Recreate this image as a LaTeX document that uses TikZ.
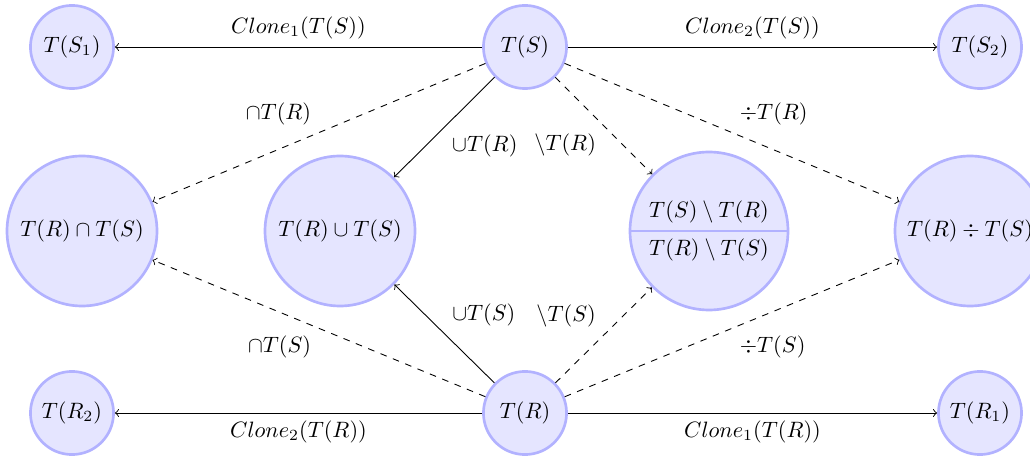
\documentclass[tikz,border=0pt]{standalone}
\usepackage{amsmath,amssymb}
\usepackage{tikz}
\usetikzlibrary{positioning,shapes.multipart}
\tikzset{
  setnode/.style={circle, draw=blue!30, fill=blue!10, very thick, inner sep=1pt},
  leafnode/.style={setnode, minimum size=37.4pt},
  resnode/.style={setnode, minimum size=67.5pt},
  opedge/.style={->},
  optedge/.style={->, dashed}
}

\begin{document}
\begin{tikzpicture}[node distance=82.8pt, on grid, font=\fontsize{10.4pt}{12.5pt}\selectfont]
    \useasboundingbox (0,0) rectangle (463.5pt,-205.65pt);
    % operands
    \node [leafnode] (ts) at (236.25pt,-21.15pt) {$T(S)$};
    \node [leafnode, below=164.7pt of ts] (tr) {$T(R)$};
    % clones
    \node [leafnode, left=203.85pt of ts] (s1) {$T(S_1)$};
    \node [leafnode, right=204.75pt of ts] (s2) {$T(S_2)$};
    \node [leafnode, left=203.85pt of tr] (r2) {$T(R_2)$};
    \node [leafnode, right=204.75pt of tr] (r1) {$T(R_1)$};
    % results
    \node [resnode, below left=82.8pt and 199.35pt of ts] (inter) {$T(R)\cap T(S)$};
    \node [resnode, below left=82.8pt and 83.25pt of ts] (union) {$T(R)\cup T(S)$};
    \node [setnode, circle split, inner sep=3pt, minimum size=71.1pt, below right=82.8pt and 82.8pt of ts] (diff)
        {$T(S)\setminus T(R)$ \nodepart{lower} $T(R)\setminus T(S)$};
    \node [resnode, below right=82.8pt and 200.25pt of ts] (quot) {$T(R)\div T(S)$};

    \draw [opedge] (ts) -- node[above] {$Clone_1(T(S))$} (s1);
    \draw [opedge] (ts) -- node[above] {$Clone_2(T(S))$} (s2);
    \draw [opedge] (tr) -- node[below] {$Clone_2(T(R))$} (r2);
    \draw [opedge] (tr) -- node[below] {$Clone_1(T(R))$} (r1);
    \draw [optedge] (ts) -- node[above left] {$\cap T(R)$} (inter);
    \draw [optedge] (tr) -- node[below left] {$\cap T(S)$} (inter);
    \draw [opedge] (ts) -- node[below right] {$\cup T(R)$} (union);
    \draw [opedge] (tr) -- node[above right] {$\cup T(S)$} (union);
    \draw [optedge] (ts) -- node[below left] {$\setminus T(R)$} (diff);
    \draw [optedge] (tr) -- node[above left] {$\setminus T(S)$} (diff);
    \draw [optedge] (ts) -- node[above right] {$\div T(R)$} (quot);
    \draw [optedge] (tr) -- node[below right] {$\div T(S)$} (quot);
\end{tikzpicture}
\end{document}
